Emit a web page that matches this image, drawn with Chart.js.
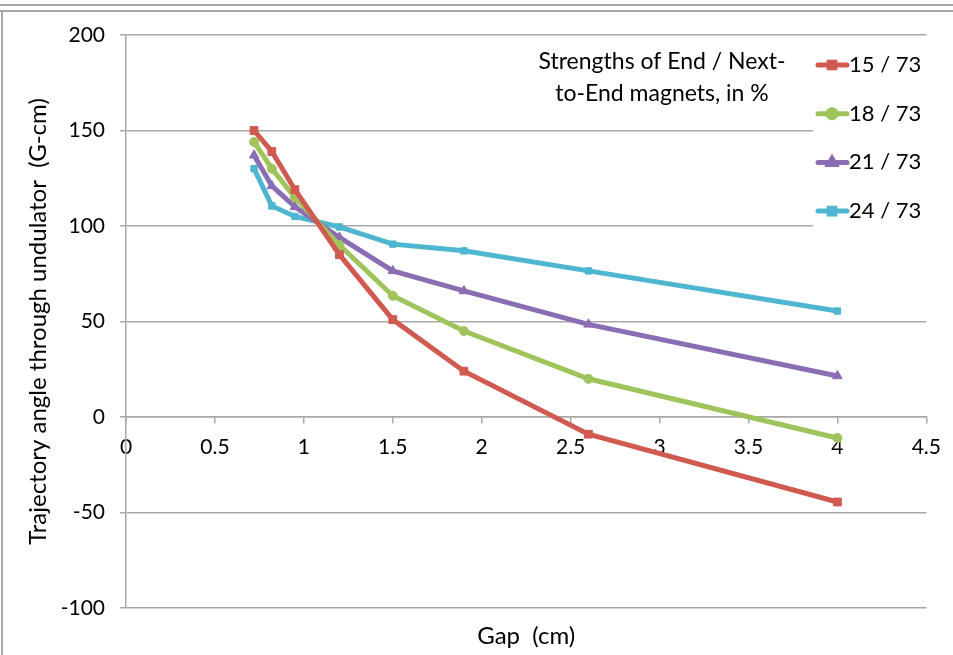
<!DOCTYPE html>
<html>
<head>
<meta charset="utf-8">
<script src="https://cdn.jsdelivr.net/npm/chart.js@4.4.1/dist/chart.umd.min.js"></script>
<style>
    body { margin: 0; background: #fff; }
    #wrap { position: relative; width: 953px; height: 655px; overflow: hidden; }
    .edge { position: absolute; background: #a8a8a8; }
    canvas { position: absolute; left: 0; top: 0; }
</style>
</head>
<body>
<div id="wrap">
    <div class="edge" style="left:0;top:4px;width:953px;height:2px"></div>
    <div class="edge" style="left:0;top:10px;width:953px;height:2px"></div>
    <div class="edge" style="left:1px;top:10px;width:2px;height:645px"></div>
    <canvas id="chart" width="953" height="655"></canvas>
</div>
<script>
    // gap in cm
    const gaps = [0.72, 0.82, 0.95, 1.2, 1.5, 1.9, 2.6, 4];

    // trajectory angle (G-cm) for each end / next-to-end strength
    const angle15 = [150, 139, 119, 85, 51, 24, -9, -44.5];
    const angle18 = [144, 130, 115, 90, 63.5, 45, 20, -11];
    const angle21 = [137, 121, 110, 94, 76.5, 66, 48.5, 21.5];
    const angle24 = [130, 110.5, 105, 99.5, 90.5, 87, 76.5, 55.5];

    const seriesNames = ['15 / 73', '18 / 73', '21 / 73', '24 / 73'];
    const legendTitle = ['Strengths of End / Next-', 'to-End magnets, in %'];

    const colors = ['#d15a50', '#9ec45b', '#8b6db3', '#4eb6d0'];
    const markers = ['rect', 'circle', 'triangle', 'rect'];
    const markerSizes = [5.5, 4.5, 5.5, 4.5];

    const FONT = 'Lato, "Open Sans", sans-serif';

    const toPoints = (vals) => gaps.map((g, i) => ({x: g, y: vals[i]}));
    const allSeries = [angle15, angle18, angle21, angle24];

    const datasets = allSeries.map((vals, i) => ({
        label: seriesNames[i],
        data: toPoints(vals),
        borderColor: colors[i],
        backgroundColor: colors[i],
        borderWidth: 5,
        pointStyle: markers[i],
        pointRadius: markerSizes[i],
        pointBorderWidth: 1,
        pointBorderColor: colors[i],
        tension: 0,
        xAxisID: 'x'
    }));

    // legend drawn over the plot area, like the original
    const sideLegend = {
        id: 'sideLegend',
        afterDraw(chart) {
            const ctx = chart.ctx;
            ctx.save();
            ctx.fillStyle = '#fff';
            ctx.fillRect(813, 40, 125, 196);

            ctx.fillStyle = '#000';
            ctx.font = '23px ' + FONT;
            ctx.textAlign = 'center';
            ctx.textBaseline = 'middle';
            ctx.fillText(legendTitle[0], 662, 62);
            ctx.fillText(legendTitle[1], 662, 94);

            chart.data.datasets.forEach((ds, i) => {
                const y = 65 + i * 48.7;
                ctx.strokeStyle = ds.borderColor;
                ctx.lineWidth = 5;
                ctx.lineCap = 'round';
                ctx.beginPath();
                ctx.moveTo(818, y);
                ctx.lineTo(847, y);
                ctx.stroke();
                Chart.helpers.drawPoint(ctx, {
                    pointStyle: ds.pointStyle,
                    radius: 4,
                    borderWidth: 1
                }, 832, y);
                ctx.fillStyle = ds.borderColor;
                ctx.fill();

                ctx.fillStyle = '#000';
                ctx.font = '22px ' + FONT;
                ctx.textAlign = 'left';
                ctx.fillText(ds.label, 849, y);
            });
            ctx.restore();
        }
    };

    new Chart(document.getElementById('chart'), {
        type: 'line',
        data: {datasets: datasets},
        options: {
            responsive: false,
            animation: false,
            layout: {padding: {top: 35, right: 26, left: 0, bottom: 0}},
            plugins: {
                legend: {display: false},
                tooltip: {enabled: false}
            },
            scales: {
                x: {
                    type: 'linear',
                    min: 0,
                    max: 4.5,
                    position: {y: 0},
                    ticks: {
                        stepSize: 0.5,
                        padding: 12,
                        color: '#000',
                        font: {family: FONT, size: 21},
                        callback: (v) => String(v)
                    },
                    grid: {drawOnChartArea: false, tickLength: 6, color: '#a8a8a8', lineWidth: 1.5},
                    border: {color: '#a8a8a8', width: 1.5}
                },
                xTitle: {
                    type: 'linear',
                    min: 0,
                    max: 4.5,
                    position: 'bottom',
                    ticks: {display: false},
                    grid: {display: false, drawTicks: false},
                    border: {display: false},
                    title: {
                        display: true,
                        text: 'Gap  (cm)',
                        color: '#000',
                        font: {family: FONT, size: 24},
                        padding: {top: 6}
                    },
                    afterFit: (scale) => { scale.height = 47; }
                },
                y: {
                    min: -100,
                    max: 200,
                    ticks: {
                        stepSize: 50,
                        padding: 15,
                        color: '#000',
                        font: {family: FONT, size: 21}
                    },
                    grid: {color: '#a8a8a8', lineWidth: 1.5, tickLength: 6},
                    border: {color: '#a8a8a8', width: 1.5},
                    title: {
                        display: true,
                        text: 'Trajectory angle through undulator  (G-cm)',
                        color: '#000',
                        font: {family: FONT, size: 24},
                        padding: {top: 24}
                    },
                    afterFit: (scale) => { scale.width = 126; }
                }
            }
        },
        plugins: [sideLegend]
    });
</script>
</body>
</html>
